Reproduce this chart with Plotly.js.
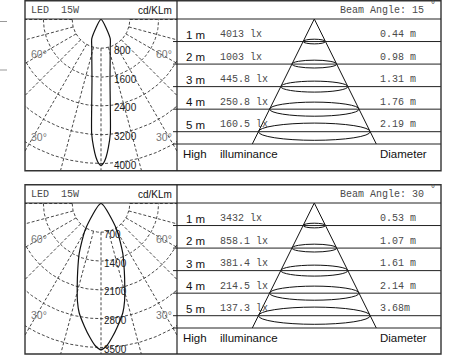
<!DOCTYPE html>
<html><head><meta charset="utf-8">
<script src="https://cdn.plot.ly/plotly-3.0.1.min.js"></script>
<style>html,body{margin:0;padding:0;background:#fff}#chart{width:455px;height:357px}</style>
</head><body><div id="chart"></div>
<script>
// ---------- data ----------
const lampLabel = 'LED  15W';
const unitLabel = 'cd/KLm';
const beamAngles = [15, 30];
const distances = [1, 2, 3, 4, 5];
const distanceLabels = ['1 m', '2 m', '3 m', '4 m', '5 m'];
const illum15 = ['4013 lx', '1003 lx', '445.8 lx', '250.8 lx', '160.5 lx'];
const diam15 = ['0.44 m', '0.98 m', '1.31 m', '1.76 m', '2.19 m'];
const illum30 = ['3432 lx', '858.1 lx', '381.4 lx', '214.5 lx', '137.3 lx'];
const diam30 = ['0.53 m', '1.07 m', '1.61 m', '2.14 m', '3.68m'];
const grid15 = [800, 1600, 2400, 3200, 4000];
const grid30 = [700, 1400, 2100, 2800, 3500];
const gridAngles = [-90, -75, -60, -45, -30, -15, 0, 15, 30, 45, 60, 75, 90];
const angleLabels = ['60°', '30°'];
const curveAngle15 = [0, 1, 2.1, 3.3, 4.7, 6.5, 8.4, 12.6, 18, 25.8, 26];
const curveCd15 = [4056, 3990, 3828, 3560, 3170, 2264, 1714, 1167, 827, 586, 0];
const curveAngle30 = [0, 2.4, 4.7, 7.6, 11.3, 13.5, 15.9, 19.1, 23.5, 31.3, 32];
const curveCd30 = [3556, 3455, 3269, 3020, 2708, 2450, 2110, 1731, 1330, 724, 0];
const footLabels = ['High', 'illuminance', 'Diameter'];

// ---------- layout geometry (pixels) ----------
const W = 455, H = 357;
const LEFT = 25, DIV = 177, RIGHT = 441, CX = 101;
const panels = [
  {top: 0.8, hdr: 19, bot: 170.7, grid: grid15, illum: illum15, diam: diam15, beam: beamAngles[0],
   ca: curveAngle15, cd: curveCd15, lblDx: 11, a60: 34, a30: 117},
  {top: 184.8, hdr: 203, bot: 354, grid: grid30, illum: illum30, diam: diam30, beam: beamAngles[1],
   ca: curveAngle30, cd: curveCd30, lblDx: 1, a60: 35, a30: 111}
];
const RSTEP = 28.8;   // px per grid ring
const U = 22.54;      // px per metre in the cone table
const APEX = 314.3;   // px x of cone apex
const SLOPE = 0.496;  // cone half-width per metre
const BASE_D = 5.546; // cone base distance (m)

const px = v => v / W, py = v => 1 - v / H;
const rad = d => d * Math.PI / 180;

const traces = [], shapes = [], annotations = [];
const layout = {
  width: W, height: H, margin: {l: 0, r: 0, t: 0, b: 0},
  paper_bgcolor: '#fff', plot_bgcolor: 'rgba(0,0,0,0)', showlegend: false,
  shapes, annotations
};
const dark = '#222';
const serifMono = {family: 'Liberation Mono, DejaVu Sans Mono, monospace', size: 10, color: '#4a4a4a'};
const sans = {family: 'Liberation Sans, Arial, sans-serif', size: 11.5, color: '#111'};

panels.forEach((p, i) => {
  const xa = 'x' + (2 * i + 1), ya = 'y' + (2 * i + 1);
  const xb = 'x' + (2 * i + 2), yb = 'y' + (2 * i + 2);
  const k = RSTEP / p.grid[0];
  const cy = p.hdr + 0.5;
  const ydom = [py(p.bot), py(p.hdr)];
  const axKey = s => s.replace('x', 'xaxis').replace('y', 'yaxis').replace(/axis1$/, 'axis');
  layout[axKey(xa)] = {domain: [px(LEFT), px(DIV)], range: [(LEFT - CX) / k, (DIV - CX) / k], visible: false, fixedrange: true, anchor: ya};
  layout[axKey(ya)] = {domain: ydom, range: [-(p.bot - cy) / k, (cy - p.hdr) / k], visible: false, fixedrange: true, anchor: xa};
  layout[axKey(xb)] = {domain: [px(DIV), px(RIGHT)], range: [(DIV - APEX) / U, (RIGHT - APEX) / U], visible: false, fixedrange: true, anchor: yb};
  layout[axKey(yb)] = {domain: ydom, range: [(p.bot - p.hdr) / U, 0], visible: false, fixedrange: true, anchor: xb};

  // polar grid rings
  const gx = [], gy = [];
  p.grid.forEach(r => {
    for (let a = -90; a <= 90; a += 1) { gx.push(r * Math.sin(rad(a))); gy.push(-r * Math.cos(rad(a))); }
    gx.push(null); gy.push(null);
  });
  const R = p.grid[p.grid.length - 1] * 2, R0 = p.grid[0];
  gridAngles.forEach(a => {
    gx.push(R0 * Math.sin(rad(a)), R * Math.sin(rad(a)), null);
    gy.push(-R0 * Math.cos(rad(a)), -R * Math.cos(rad(a)), null);
  });
  traces.push({type: 'scatter', mode: 'lines', x: gx, y: gy, xaxis: xa, yaxis: ya, hoverinfo: 'skip',
    line: {color: '#333', width: 0.9, dash: '3px,2px'}});

  // intensity curve
  const cxs = [], cys = [];
  for (let j = p.ca.length - 1; j >= 0; j--) { cxs.push(-p.cd[j] * Math.sin(rad(p.ca[j]))); cys.push(-p.cd[j] * Math.cos(rad(p.ca[j]))); }
  for (let j = 1; j < p.ca.length; j++) { cxs.push(p.cd[j] * Math.sin(rad(p.ca[j]))); cys.push(-p.cd[j] * Math.cos(rad(p.ca[j]))); }
  traces.push({type: 'scatter', mode: 'lines', x: cxs, y: cys, xaxis: xa, yaxis: ya, hoverinfo: 'skip',
    line: {color: '#111', width: 1.2, shape: 'spline', smoothing: 0.6}});

  // ring labels
  p.grid.forEach(r => annotations.push({xref: xa, yref: ya, x: p.lblDx / k, y: -r, text: String(r), showarrow: false,
    xanchor: 'left', yanchor: 'middle', yshift: -2, font: {family: 'Liberation Sans, Arial, sans-serif', size: 10, color: '#222'}}));
  // angle labels
  [[angleLabels[0], p.a60], [angleLabels[1], p.a30]].forEach(([t, yr]) => {
    annotations.push({xref: xa, yref: ya, x: (29.3 - CX) / k, y: -yr / k, text: t, showarrow: false, xanchor: 'left', yanchor: 'middle',
      font: {family: 'Liberation Sans, Arial, sans-serif', size: 10.5, color: '#777'}});
    annotations.push({xref: xa, yref: ya, x: (174 - CX) / k, y: -yr / k, text: t, showarrow: false, xanchor: 'right', yanchor: 'middle',
      font: {family: 'Liberation Sans, Arial, sans-serif', size: 10.5, color: '#777'}});
  });

  // cone
  traces.push({type: 'scatter', mode: 'lines', x: [-SLOPE * BASE_D, 0, SLOPE * BASE_D], y: [BASE_D, 0, BASE_D], xaxis: xb, yaxis: yb,
    hoverinfo: 'skip', line: {color: '#111', width: 1}});
  distances.forEach((d, j) => {
    const rx = SLOPE * d, ry = 0.14 * rx + 0.035;
    shapes.push({type: 'circle', xref: xb, yref: yb, x0: -rx, x1: rx, y0: d - ry, y1: d + ry, line: {color: '#111', width: 1}});
    shapes.push({type: 'line', xref: 'paper', yref: yb, x0: px(173), x1: px(RIGHT), y0: d, y1: d, line: {color: dark, width: 1}});
    annotations.push({xref: xb, yref: yb, x: (184.3 - APEX) / U, y: d - 0.3, text: distanceLabels[j], showarrow: false, xanchor: 'left', yanchor: 'middle', font: sans});
    annotations.push({xref: xb, yref: yb, x: (217.7 - APEX) / U, y: d - 0.3, text: p.illum[j], showarrow: false, xanchor: 'left', yanchor: 'middle', font: serifMono});
    annotations.push({xref: xb, yref: yb, x: (377.7 - APEX) / U, y: d - 0.3, text: p.diam[j], showarrow: false, xanchor: 'left', yanchor: 'middle', font: serifMono});
  });
  shapes.push({type: 'line', xref: 'paper', yref: yb, x0: px(173), x1: px(RIGHT), y0: BASE_D, y1: BASE_D, line: {color: dark, width: 1}});
  [[footLabels[0], 181], [footLabels[1], 217.7], [footLabels[2], 377.7]].forEach(([t, x]) =>
    annotations.push({xref: xb, yref: yb, x: (x - APEX) / U, y: 6.0, text: t, showarrow: false, xanchor: 'left', yanchor: 'middle', font: sans}));

  // frame
  shapes.push({type: 'rect', xref: 'paper', yref: 'paper', x0: px(LEFT), x1: px(RIGHT), y0: py(p.bot), y1: py(p.top), line: {color: '#333', width: 1.4}});
  shapes.push({type: 'line', xref: 'paper', yref: 'paper', x0: px(LEFT), x1: px(RIGHT), y0: py(p.hdr), y1: py(p.hdr), line: {color: dark, width: 1}});
  shapes.push({type: 'line', xref: 'paper', yref: 'paper', x0: px(DIV), x1: px(DIV), y0: py(p.bot), y1: py(p.top), line: {color: dark, width: 1.2}});

  // header texts
  const hy = py((p.top + p.hdr) / 2 + 0.8);
  annotations.push({xref: 'paper', yref: 'paper', x: px(28.5), y: hy, text: lampLabel, showarrow: false, xanchor: 'left', yanchor: 'middle', font: serifMono});
  annotations.push({xref: 'paper', yref: 'paper', x: px(174), y: hy, text: unitLabel, showarrow: false, xanchor: 'right', yanchor: 'middle',
    font: {family: 'Liberation Sans, Arial, sans-serif', size: 10, color: '#111'}});
  annotations.push({xref: 'paper', yref: 'paper', x: px(337.7), y: hy, text: 'Beam Angle: ' + p.beam, showarrow: false, xanchor: 'left', yanchor: 'middle', font: serifMono});
  annotations.push({xref: 'paper', yref: 'paper', x: px(433), y: py(p.top + 4.5), text: '°', showarrow: false, xanchor: 'center', yanchor: 'middle', font: serifMono});
});

// stray marks at far left
[21.5, 70].forEach(y => shapes.push({type: 'line', xref: 'paper', yref: 'paper', x0: 0, x1: px(7), y0: py(y), y1: py(y), line: {color: '#999', width: 1}}));

Plotly.newPlot('chart', traces, layout, {staticPlot: true, displayModeBar: false});
</script>
</body></html>
